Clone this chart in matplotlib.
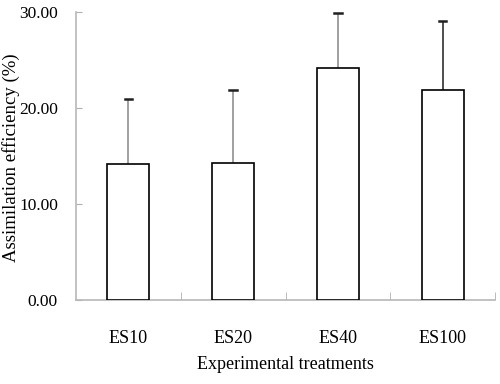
import numpy as np
import matplotlib
matplotlib.use("Agg")
import matplotlib.pyplot as plt

# data
treatments = ["ES10", "ES20", "ES40", "ES100"]
means = [14.2, 14.3, 24.2, 21.9]
errors = [6.7, 7.6, 5.7, 7.2]
err_colors = ["#909090", "#909090", "#909090", "#303030"]
y_ticks = [0, 10, 20, 30]

plt.rcParams["font.family"] = ["Liberation Serif", "DejaVu Serif"]

fig = plt.figure(figsize=(5, 3.84), dpi=100)
ax = fig.add_axes([0.152, 0.219, 0.838, 0.75])

x = np.arange(len(treatments))
ax.bar(x, means, width=0.4, color="white", edgecolor="black", linewidth=1.2, zorder=3)

for i in range(len(x)):
    ax.errorbar(x[i], means[i], yerr=[[0], [errors[i]]], fmt="none",
                ecolor=err_colors[i], elinewidth=1.2, capsize=0, zorder=2)
    # dark caps
    ax.plot([x[i] - 0.035, x[i] + 0.035], [means[i] + errors[i]] * 2,
            color="#202020", linewidth=1.8, zorder=4)

ax.set_xlim(-0.5, len(treatments) - 0.5)
ax.set_ylim(0, 30)
ax.set_yticks(y_ticks)
ax.set_yticklabels([f"{v:.2f}" for v in y_ticks], fontsize=12.5)
ax.set_xticks(x)
ax.set_xticklabels(treatments, fontsize=13)
ax.set_xticks(np.arange(len(treatments)) + 0.5, minor=True)

ax.tick_params(axis="x", which="major", length=0, pad=22)
ax.tick_params(axis="x", which="minor", direction="in", length=6, color="#b0b0b0")
ax.tick_params(axis="y", direction="in", length=4, color="#b0b0b0", pad=13)

for s in ["top", "right"]:
    ax.spines[s].set_visible(False)
for s in ["left", "bottom"]:
    ax.spines[s].set_color("#b8b8b8")
    ax.spines[s].set_linewidth(1.2)

ax.set_xlabel("Experimental treatments", fontsize=13, labelpad=6)
fig.text(11 / 500, 0.59, "Assimilation efficiency (%)", rotation=90,
         fontsize=13.5, ha="center", va="center")

fig.savefig("out.png", dpi=100)
